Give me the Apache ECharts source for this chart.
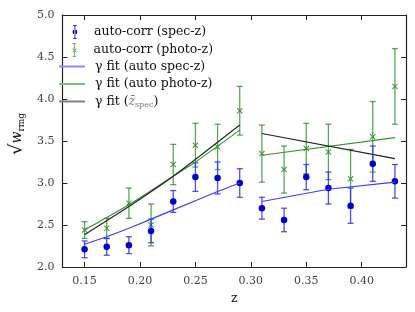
<!DOCTYPE html>
<html><head><meta charset="utf-8">
<script src="https://cdn.jsdelivr.net/npm/echarts@6/dist/echarts.min.js"></script>
<style>html,body{margin:0;padding:0;background:#fff}#c{width:415px;height:312px}</style>
</head><body><div id="c"></div>
<script>
const zBins = [0.15,0.17,0.19,0.21,0.23,0.25,0.27,0.29,0.31,0.33,0.35,0.37,0.39,0.41,0.43];
const specVal = [2.21,2.24,2.26,2.43,2.78,3.07,3.06,3.00,2.70,2.56,3.07,2.94,2.73,3.23,3.02];
const specErr = [0.10,0.10,0.10,0.14,0.13,0.17,0.19,0.17,0.13,0.14,0.15,0.19,0.21,0.21,0.20];
const photoVal = [2.44,2.46,2.76,2.50,3.22,3.45,3.43,3.86,3.35,3.16,3.41,3.37,3.05,3.55,4.15];
const photoErr = [0.10,0.12,0.18,0.25,0.24,0.26,0.27,0.29,0.34,0.28,0.30,0.33,0.35,0.42,0.45];
const fitSpec1 = [[0.15,2.27],[0.17,2.36],[0.19,2.46],[0.21,2.57],[0.23,2.68],[0.25,2.79],[0.27,2.90],[0.29,3.00]];
const fitSpec2 = [[0.31,2.78],[0.37,2.925],[0.43,3.01]];
const fitPhoto1 = [[0.15,2.44],[0.19,2.74],[0.23,3.08],[0.25,3.25],[0.29,3.63]];
const fitPhoto2 = [[0.31,3.33],[0.43,3.54]];
const fitZ1 = [[0.15,2.385],[0.19,2.72],[0.23,3.08],[0.29,3.69]];
const fitZ2 = [[0.31,3.59],[0.43,3.29]];
const xTicks = [0.15,0.20,0.25,0.30,0.35,0.40];
const legendNames = ['auto-corr (spec-z)','auto-corr (photo-z)','γ fit (auto spec-z)','γ fit (auto photo-z)','γ fit (z̄spec)'];

const FONT = 'DejaVu Serif';
const blue = '#0000d0', green = '#238b23';
const specPts = zBins.map((z,i)=>[z,specVal[i]]);
const photoPts = zBins.map((z,i)=>[z,photoVal[i]]);
const specBars = zBins.map((z,i)=>[z,specVal[i]-specErr[i],specVal[i]+specErr[i]]);
const photoBars = zBins.map((z,i)=>[z,photoVal[i]-photoErr[i],photoVal[i]+photoErr[i]]);

function errRender(color, op){
  return function(params, api){
    const x = api.value(0);
    const lo = api.coord([x, api.value(1)]);
    const hi = api.coord([x, api.value(2)]);
    const w = 3;
    const st = {stroke: color, lineWidth: 1.3, opacity: op};
    return {type:'group', children:[
      {type:'line', shape:{x1:lo[0],y1:lo[1],x2:hi[0],y2:hi[1]}, style:st},
      {type:'line', shape:{x1:lo[0]-w,y1:lo[1],x2:lo[0]+w,y2:lo[1]}, style:st},
      {type:'line', shape:{x1:hi[0]-w,y1:hi[1],x2:hi[0]+w,y2:hi[1]}, style:st}
    ]};
  };
}
const chart = echarts.init(document.getElementById('c'), null, {renderer:'canvas'});
const dotIcon = 'path://M2.5,0h5v1h-5zM4.4,0h1.2v20h-1.2zM2.5,19h5v1h-5zM5,6.5a3.5,3.5 0 1,0 0.001,0z';
const xIcon = 'path://M2.5,0h5v1h-5zM4.4,0h1.2v20h-1.2zM2.5,19h5v1h-5zM2.5,8.2l0.7,-0.7l5.3,5.3l-0.7,0.7zM2.5,12.8l5.3,-5.3l0.7,0.7l-5.3,5.3z';
const xMark = 'path://M0,0.7l0.7,-0.7l5.3,5.3l-0.7,0.7zM0,5.3l5.3,-5.3l0.7,0.7l-5.3,5.3z';
const lineIcon = 'path://M0,0h26v2h-26z';
const icons = [dotIcon, xIcon, lineIcon, lineIcon, lineIcon];
const iconColors = [blue, '#45a845', '#8a8aff', '#7cc07c', '#808080'];
const rowCenters = [32, 50, 68, 85.5, 103];
const iconW = [7, 7, 26, 26, 26];
const iconH = [14, 14, 16, 16, 16];
const legends = legendNames.map((n,i)=>({
  orient:'vertical', left:(i<2 ? 72.5 : 59), top:rowCenters[i]-iconH[i]/2,
  itemWidth:iconW[i], itemHeight:iconH[i], padding:0,
  selectedMode:false,
  textStyle:{fontFamily:FONT, fontSize:12.5, color:'#111',
    padding:[0,0,0, (i<2 ? 95 - 72.5 - iconW[i] - 5 : 95 - 85 - 5)],
    rich:{
    i:{fontFamily:FONT, fontStyle:'italic', fontSize:12, color:'#777'},
    s:{fontFamily:FONT, fontSize:8, color:'#777', verticalAlign:'bottom', padding:[6,0,0,0]},
    t:{fontFamily:FONT, fontSize:12.5, color:'#111'}
  }},
  data:[{name:n, icon:icons[i], itemStyle:{color:iconColors[i], opacity:1}}],
  formatter: nm => nm === 'γ fit (z̄spec)' ? '{t|γ fit (}{i|z̄}{s|spec}{t|)}' : nm
}));
const axCommon = {
  axisLine:{lineStyle:{color:'#222',width:1.2}},
  splitLine:{show:false}
};
chart.setOption({
  animation:false,
  grid:{left:48,right:9,top:15,bottom:45},
  legend:legends,
  xAxis:[
    Object.assign({type:'value', min:0.13, max:0.44, position:'bottom',
      name:'z', nameLocation:'middle', nameGap:24,
      nameTextStyle:{fontFamily:FONT, fontSize:12.5, color:'#111'},
      axisTick:{inside:true, length:5, customValues:xTicks, lineStyle:{color:'#222'}},
      axisLabel:{customValues:xTicks, fontFamily:FONT, fontSize:11, color:'#444', margin:9,
        formatter:v=>v.toFixed(2)}}, axCommon),
    Object.assign({type:'value', min:0.13, max:0.44, position:'top',
      axisTick:{inside:true, length:5, customValues:xTicks, lineStyle:{color:'#222'}},
      axisLabel:{show:false}}, axCommon)
  ],
  yAxis:[
    Object.assign({type:'value', min:2.0, max:5.0, interval:0.5, position:'left',
      name:'{r|√}{w|w}{s|rmg}', nameLocation:'middle', nameGap:28, nameRotate:90,
      nameTextStyle:{padding:[0,0,0,14], rich:{
        r:{fontFamily:FONT, fontSize:18, color:'#111'},
        w:{fontFamily:FONT, fontStyle:'italic', fontSize:14, color:'#111'},
        s:{fontFamily:FONT, fontSize:9, color:'#111', verticalAlign:'bottom', padding:[6,0,0,0]}
      }},
      axisTick:{inside:true, length:5, lineStyle:{color:'#222'}},
      axisLabel:{fontFamily:FONT, fontSize:11, color:'#444', margin:8, formatter:v=>v.toFixed(1)}}, axCommon),
    Object.assign({type:'value', min:2.0, max:5.0, interval:0.5, position:'right',
      axisTick:{inside:true, length:5, lineStyle:{color:'#222'}},
      axisLabel:{show:false}}, axCommon)
  ],
  series:[
    {name:legendNames[1], type:'custom', data:photoBars, renderItem:errRender(green,0.75), z:2},
    {name:legendNames[1], type:'scatter', data:photoPts, symbol:xMark, symbolSize:6, itemStyle:{color:green, opacity:0.9}, z:3},
    {name:legendNames[0], type:'custom', data:specBars, renderItem:errRender('#3030f0',0.85), z:4},
    {name:legendNames[0], type:'scatter', data:specPts, symbol:'circle', symbolSize:6.5, itemStyle:{color:blue, opacity:1}, z:5},
    {name:legendNames[2], type:'line', data:fitSpec1, showSymbol:false, lineStyle:{color:'#3c3cff',width:1.1}, z:6},
    {name:legendNames[2], type:'line', data:fitSpec2, showSymbol:false, lineStyle:{color:'#3c3cff',width:1.1}, z:6},
    {name:legendNames[3], type:'line', data:fitPhoto1, showSymbol:false, smooth:0.2, lineStyle:{color:'#2b9a2b',width:1.1}, z:6},
    {name:legendNames[3], type:'line', data:fitPhoto2, showSymbol:false, lineStyle:{color:'#2b9a2b',width:1.1}, z:6},
    {name:legendNames[4], type:'line', data:fitZ1, showSymbol:false, smooth:0.2, lineStyle:{color:'#222',width:1.1}, z:6},
    {name:legendNames[4], type:'line', data:fitZ2, showSymbol:false, lineStyle:{color:'#222',width:1.1}, z:6}
  ]
});
</script></body></html>
